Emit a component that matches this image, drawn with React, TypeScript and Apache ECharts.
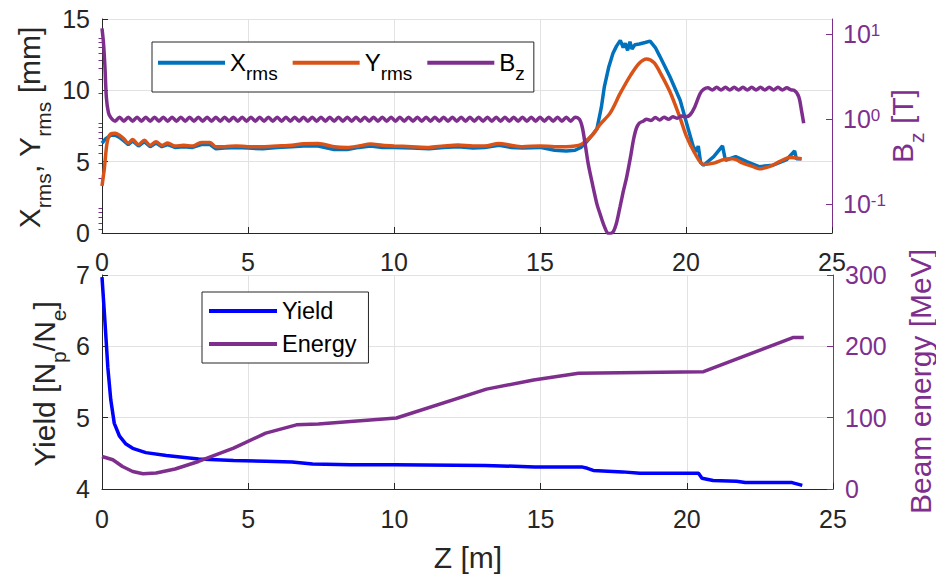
import React, { useEffect, useRef } from 'react';
import * as echarts from 'echarts';

const FONT = "'Liberation Sans', Arial, Helvetica, sans-serif";
const DARK = '#262626';
const PURPLE = '#7E2F8E';
const BLUE = '#0072BD';
const ORANGE = '#D95319';
const YBLUE = '#0000FF';
const GRIDC = '#e2e2e2';

// Top panel: Z [m] vs Xrms / Yrms [mm]
const xrms: [number, number][] = [
  [0, 6.3], [0.12, 6.6], [0.3, 6.85], [0.45, 6.85], [0.6, 6.7], [0.75, 6.45], [0.9, 6.2], [1.05, 6.45],
  [1.25, 6.1], [1.45, 6.4], [1.65, 6.05], [1.85, 6.3], [2.05, 6.05], [2.25, 6.2], [2.5, 6.0], [2.8, 6.05],
  [3.1, 6.0], [3.4, 6.2], [3.7, 6.2], [3.9, 5.9], [4.2, 5.95], [4.6, 6.0], [5.0, 5.95], [5.5, 5.9],
  [6.0, 6.0], [6.5, 6.05], [6.9, 6.1], [7.4, 6.1], [7.95, 5.85], [8.4, 5.85], [8.8, 6.0], [9.2, 6.1],
  [9.6, 6.0], [10.0, 6.0], [10.6, 5.95], [11.2, 5.9], [11.7, 6.0], [12.2, 6.05], [12.7, 5.95], [13.1, 6.0],
  [13.6, 6.15], [14.0, 6.0], [14.4, 5.95], [15.0, 6.0], [15.5, 5.8], [15.9, 5.75], [16.2, 5.8], [16.4, 6.0],
  [16.6, 6.4], [16.8, 6.9], [16.95, 7.3], [17.1, 8.8], [17.2, 10.2], [17.35, 11.6], [17.5, 12.6], [17.62, 13.1],
  [17.75, 13.5], [17.85, 13.0], [17.92, 13.3], [18.0, 12.8], [18.08, 13.4], [18.15, 12.9], [18.25, 13.2],
  [18.4, 13.25], [18.6, 13.35], [18.77, 13.45], [18.95, 13.0], [19.1, 12.4], [19.45, 10.95], [19.8, 9.3],
  [20.02, 7.7], [20.25, 6.05], [20.35, 5.7], [20.42, 6.1], [20.5, 4.95], [20.6, 4.75], [20.95, 5.35],
  [21.25, 6.1], [21.35, 5.1], [21.7, 5.35], [22.08, 5.0], [22.5, 4.65], [22.98, 4.75], [23.45, 5.15],
  [23.72, 5.75], [23.78, 5.2], [23.96, 5.2],
];

const yrms: [number, number][] = [
  [0, 3.3], [0.08, 4.5], [0.18, 6.4], [0.3, 6.95], [0.45, 7.0], [0.6, 6.85], [0.75, 6.6], [0.9, 6.3],
  [1.05, 6.55], [1.25, 6.2], [1.45, 6.5], [1.65, 6.15], [1.85, 6.4], [2.05, 6.15], [2.25, 6.3], [2.5, 6.1],
  [2.8, 6.15], [3.1, 6.1], [3.4, 6.35], [3.7, 6.35], [3.9, 6.05], [4.2, 6.05], [4.6, 6.1], [5.0, 6.05],
  [5.5, 6.05], [6.0, 6.1], [6.5, 6.15], [6.9, 6.25], [7.4, 6.28], [7.95, 6.05], [8.4, 6.0], [8.8, 6.1],
  [9.2, 6.24], [9.6, 6.15], [10.0, 6.1], [10.6, 6.05], [11.2, 6.0], [11.7, 6.1], [12.2, 6.17], [12.7, 6.1],
  [13.1, 6.1], [13.6, 6.28], [14.0, 6.15], [14.4, 6.05], [15.0, 6.1], [15.5, 6.05], [15.9, 6.05], [16.2, 6.1],
  [16.4, 6.2], [16.6, 6.5], [16.85, 7.0], [17.05, 7.6], [17.4, 8.4], [17.75, 9.8], [18.1, 11.05], [18.4, 11.9],
  [18.65, 12.2], [18.9, 11.95], [19.1, 11.3], [19.45, 9.9], [19.8, 8.05], [20.02, 6.75], [20.3, 5.6],
  [20.6, 4.8], [20.95, 4.9], [21.3, 5.15], [21.6, 5.2], [21.95, 4.9], [22.3, 4.65], [22.5, 4.5],
  [22.85, 4.65], [23.2, 5.0], [23.55, 5.3], [23.95, 5.2],
];

// Top panel right axis: Bz [T] (log)
const bz: [number, number][] = [
  [0, 11.8], [0.05, 8], [0.1, 4.2], [0.15, 1.8], [0.22, 1.2], [0.3, 1.05],
  [0.45, 0.95], [0.6, 1.06], [0.75, 0.95], [0.9, 1.06], [1.05, 0.95], [1.2, 1.06], [1.35, 0.95], [1.5, 1.06],
  [1.65, 0.95], [1.8, 1.06], [1.95, 0.95], [2.1, 1.06], [2.25, 0.95], [2.4, 1.06], [2.55, 0.95], [2.7, 1.06],
  [2.85, 0.95], [3.0, 1.06], [3.15, 0.95], [3.3, 1.06], [3.45, 0.95], [3.6, 1.06], [3.75, 0.95], [3.9, 1.06],
  [4.05, 0.95], [4.2, 1.06], [4.35, 0.95], [4.5, 1.06], [4.65, 0.95], [4.8, 1.06], [4.95, 0.95], [5.1, 1.06],
  [5.25, 0.95], [5.4, 1.06], [5.55, 0.95], [5.7, 1.06], [5.85, 0.95], [6.0, 1.06], [6.15, 0.95], [6.3, 1.06],
  [6.45, 0.95], [6.6, 1.06], [6.75, 0.95], [6.9, 1.06], [7.05, 0.95], [7.2, 1.06], [7.35, 0.95], [7.5, 1.06],
  [7.65, 0.95], [7.8, 1.06], [7.95, 0.95], [8.1, 1.06], [8.25, 0.95], [8.4, 1.06], [8.55, 0.95], [8.7, 1.06],
  [8.85, 0.95], [9.0, 1.06], [9.15, 0.95], [9.3, 1.06], [9.45, 0.95], [9.6, 1.06], [9.75, 0.95], [9.9, 1.06],
  [10.05, 0.95], [10.2, 1.06], [10.35, 0.95], [10.5, 1.06], [10.65, 0.95], [10.8, 1.06], [10.95, 0.95], [11.1, 1.06],
  [11.25, 0.95], [11.4, 1.06], [11.55, 0.95], [11.7, 1.06], [11.85, 0.95], [12.0, 1.06], [12.15, 0.95], [12.3, 1.06],
  [12.45, 0.95], [12.6, 1.06], [12.75, 0.95], [12.9, 1.06], [13.05, 0.95], [13.2, 1.06], [13.35, 0.95], [13.5, 1.06],
  [13.65, 0.95], [13.8, 1.06], [13.95, 0.95], [14.1, 1.06], [14.25, 0.95], [14.4, 1.06], [14.55, 0.95], [14.7, 1.06],
  [14.85, 0.95], [15.0, 1.06], [15.15, 0.95], [15.3, 1.06], [15.45, 0.95], [15.6, 1.06], [15.75, 0.95], [15.9, 1.06],
  [16.05, 0.95], [16.2, 1.06], [16.35, 1.0],
  [16.45, 0.8], [16.55, 0.5], [16.65, 0.3], [16.8, 0.17], [16.95, 0.1], [17.05, 0.078], [17.2, 0.055],
  [17.35, 0.045], [17.5, 0.047], [17.62, 0.06], [17.74, 0.093], [17.85, 0.14], [17.97, 0.21], [18.1, 0.36],
  [18.2, 0.57], [18.3, 0.78], [18.4, 0.9], [18.53, 0.95],
  [18.65, 1.0], [18.8, 0.97], [18.95, 1.05], [19.1, 0.98], [19.25, 1.06], [19.4, 1.0], [19.55, 1.07],
  [19.7, 1.03], [19.85, 1.09], [20.0, 1.07], [20.14, 1.13], [20.3, 1.4], [20.48, 2.0], [20.6, 2.25],
  [20.75, 2.35], [20.9, 2.22], [21.05, 2.38], [21.2, 2.22], [21.35, 2.38], [21.5, 2.22], [21.65, 2.38],
  [21.8, 2.22], [21.95, 2.38], [22.1, 2.22], [22.25, 2.38], [22.4, 2.22], [22.55, 2.38], [22.7, 2.22],
  [22.85, 2.38], [23.0, 2.22], [23.15, 2.38], [23.3, 2.22], [23.45, 2.35], [23.6, 2.22],
  [23.7, 2.2], [23.86, 1.85], [23.95, 1.3], [24.03, 0.9],
];

// Bottom panel: Yield [Np/Ne] and Beam energy [MeV]
const yieldData: [number, number][] = [
  [0, 6.97], [0.1, 6.35], [0.2, 5.7], [0.3, 5.25], [0.42, 4.92], [0.6, 4.74], [0.82, 4.63], [1.05, 4.57],
  [1.5, 4.51], [2.2, 4.47], [3.3, 4.42], [4.5, 4.4], [5.6, 4.39], [6.5, 4.38], [7.2, 4.35], [8.5, 4.34],
  [10.0, 4.34], [13.1, 4.33], [14.8, 4.31], [16.4, 4.31], [16.6, 4.29], [16.8, 4.26], [17.8, 4.24],
  [18.4, 4.22], [20.4, 4.22], [20.52, 4.15], [20.9, 4.12], [21.7, 4.11], [22.0, 4.09], [23.6, 4.09],
  [23.95, 4.05],
];

const energy: [number, number][] = [
  [0, 45.6], [0.37, 41], [0.7, 31.6], [1.05, 24.6], [1.4, 21.4], [1.85, 22.4], [2.5, 28], [3.3, 38.6],
  [4.5, 57.3], [5.6, 78.3], [6.65, 89.9], [7.4, 91], [8.5, 94.5], [10.07, 99.5], [13.15, 140],
  [14.76, 152.8], [16.3, 162.2], [17.7, 163], [20.57, 164.4], [23.65, 212.5], [24.0, 212.5],
];

const logMajor = [0.1, 1, 10];
const logMinor = [0.05, 0.06, 0.07, 0.08, 0.09, 0.2, 0.3, 0.4, 0.5, 0.6, 0.7, 0.8, 0.9, 2, 3, 4, 5, 6, 7, 8, 9];

function subRich(F: number, f: number, off: number, color: string) {
  const pTop = off + (F - f) / 2;
  return {
    m: { fontSize: F, lineHeight: F, verticalAlign: 'top', fontFamily: FONT, color, fill: color },
    s: { fontSize: f, lineHeight: f, verticalAlign: 'top', padding: [pTop, 0, 0, 0], fontFamily: FONT, color, fill: color },
  };
}

const TICKFS = 25;
const TITLEFS = 30;

function titleText(x: number, y: number, text: string, color: string, rich: any) {
  return {
    type: 'text',
    x,
    y,
    rotation: Math.PI / 2,
    silent: true,
    style: {
      text,
      rich,
      fontSize: TITLEFS,
      fontFamily: FONT,
      fill: color,
      align: 'center',
      verticalAlign: 'middle',
      textAlign: 'center',
      textVerticalAlign: 'middle',
    },
  };
}

const legendNames: Record<string, string> = {
  Xrms: '{m|X}{s|rms}',
  Yrms: '{m|Y}{s|rms}',
  Bz: '{m|B}{s|z}',
};

function xAxisCfg(grid: number, margin: number) {
  return {
    gridIndex: grid,
    type: 'value',
    min: 0,
    max: 25,
    interval: 5,
    axisLine: { show: true, onZero: false, lineStyle: { color: DARK, width: 1 } },
    axisTick: { show: true, inside: true, length: 6, lineStyle: { color: DARK } },
    axisLabel: { fontSize: TICKFS, color: DARK, margin, fontFamily: FONT },
    splitLine: { show: true, lineStyle: { color: GRIDC, width: 1 } },
  };
}

export default function App() {
  const ref = useRef<HTMLDivElement>(null);
  useEffect(() => {
    const chart = echarts.init(ref.current!, null, { renderer: 'svg' });
    const titleRich = subRich(TITLEFS, 21, 14, DARK);
    const titleRichP = subRich(TITLEFS, 21, 14, PURPLE);
    const option: any = {
      animation: false,
      backgroundColor: '#ffffff',
      textStyle: { fontFamily: FONT },
      grid: [
        { left: 102, top: 19, width: 730, height: 214 },
        { left: 102, top: 275, width: 731, height: 214 },
      ],
      legend: [
        {
          data: ['Xrms', 'Yrms', 'Bz'],
          left: 152,
          top: 42,
          orient: 'horizontal',
          icon: 'rect',
          itemWidth: 67,
          itemHeight: 4,
          itemGap: 15,
          selectedMode: false,
          padding: [8.75, 9, 8.75, 6],
          borderColor: DARK,
          borderWidth: 1,
          borderRadius: 0,
          backgroundColor: '#ffffff',
          formatter: (n: string) => legendNames[n] || n,
          textStyle: { fontSize: 24, color: '#000', fontFamily: FONT, rich: subRich(24, 19, 11, '#000') },
        },
        {
          data: ['Yield', 'Energy'],
          left: 202,
          top: 292,
          orient: 'vertical',
          icon: 'rect',
          itemWidth: 68,
          itemHeight: 4,
          itemGap: 6,
          selectedMode: false,
          padding: [5.5, 12, 5.5, 7],
          borderColor: DARK,
          borderWidth: 1,
          borderRadius: 0,
          backgroundColor: '#ffffff',
          textStyle: { fontSize: 23.5, lineHeight: 27, color: '#000', fontFamily: FONT },
        },
      ],
      xAxis: [xAxisCfg(0, 16), xAxisCfg(1, 17)],
      yAxis: [
        {
          gridIndex: 0,
          type: 'value',
          position: 'left',
          min: 0,
          max: 15,
          interval: 5,
          axisLine: { show: true, onZero: false, lineStyle: { color: DARK, width: 1 } },
          axisTick: { show: true, inside: true, length: 6, lineStyle: { color: DARK } },
          axisLabel: { fontSize: TICKFS, color: DARK, margin: 12, fontFamily: FONT },
          splitLine: { show: true, lineStyle: { color: GRIDC, width: 1 } },
        },
        {
          gridIndex: 0,
          type: 'log',
          logBase: 10,
          position: 'right',
          min: 0.0457,
          max: 15.2,
          axisLine: { show: true, onZero: false, lineStyle: { color: PURPLE, width: 1 } },
          axisTick: { show: true, inside: true, length: 6, customValues: logMajor, lineStyle: { color: PURPLE } },
          axisLabel: {
            margin: 11,
            customValues: logMajor,
            formatter: (v: number) => `{b|10}{p|${Math.round(Math.log10(v))}}`,
            rich: {
              b: { fontSize: TICKFS, lineHeight: TICKFS, verticalAlign: 'bottom', padding: [5, 0, 0, 0], color: PURPLE, fontFamily: FONT },
              p: { fontSize: 17, lineHeight: 17, verticalAlign: 'top', padding: [0, 0, 11, 0], color: PURPLE, fontFamily: FONT },
            },
          },
          splitLine: { show: false },
        },
        {
          gridIndex: 0,
          type: 'log',
          logBase: 10,
          position: 'right',
          min: 0.0457,
          max: 15.2,
          axisLine: { show: false },
          axisTick: { show: true, inside: true, length: 3.5, customValues: logMinor, lineStyle: { color: PURPLE } },
          axisLabel: { show: false },
          splitLine: { show: false },
        },
        {
          gridIndex: 1,
          type: 'value',
          position: 'left',
          min: 4,
          max: 7,
          interval: 1,
          axisLine: { show: true, onZero: false, lineStyle: { color: DARK, width: 1 } },
          axisTick: { show: true, inside: true, length: 6, lineStyle: { color: DARK } },
          axisLabel: { fontSize: TICKFS, color: DARK, margin: 12, fontFamily: FONT },
          splitLine: { show: true, lineStyle: { color: GRIDC, width: 1 } },
        },
        {
          gridIndex: 1,
          type: 'value',
          position: 'right',
          min: 0,
          max: 300,
          interval: 100,
          axisLine: { show: true, onZero: false, lineStyle: { color: PURPLE, width: 1 } },
          axisTick: { show: true, inside: true, length: 6, lineStyle: { color: PURPLE } },
          axisLabel: { fontSize: TICKFS, color: PURPLE, margin: 12, fontFamily: FONT },
          splitLine: { show: false },
        },
      ],
      series: [
        { name: 'Xrms', type: 'line', xAxisIndex: 0, yAxisIndex: 0, data: xrms, symbol: 'none', showSymbol: false,
          lineStyle: { width: 3.5, color: BLUE }, itemStyle: { color: BLUE } },
        { name: 'Yrms', type: 'line', xAxisIndex: 0, yAxisIndex: 0, data: yrms, symbol: 'none', showSymbol: false, smooth: 0.3,
          lineStyle: { width: 3.5, color: ORANGE }, itemStyle: { color: ORANGE } },
        { name: 'Bz', type: 'line', xAxisIndex: 0, yAxisIndex: 1, data: bz, symbol: 'none', showSymbol: false, smooth: 0.3,
          lineStyle: { width: 3.5, color: PURPLE }, itemStyle: { color: PURPLE } },
        { name: 'Yield', type: 'line', xAxisIndex: 1, yAxisIndex: 3, data: yieldData, symbol: 'none', showSymbol: false,
          lineStyle: { width: 3.5, color: YBLUE }, itemStyle: { color: YBLUE } },
        { name: 'Energy', type: 'line', xAxisIndex: 1, yAxisIndex: 4, data: energy, symbol: 'none', showSymbol: false,
          lineStyle: { width: 3.5, color: PURPLE }, itemStyle: { color: PURPLE } },
      ],
      graphic: [
        titleText(29.5, 127.5, '{m|X}{s|rms}{m|, Y}{s|rms}{m| [mm]}', DARK, titleRich),
        titleText(44.5, 384, '{m|Yield [N}{s|p}{m|/N}{s|e}{m|]}', DARK, titleRich),
        titleText(902, 126, '{m|B}{s|z}{m| [T]}', PURPLE, titleRichP),
        {
          type: 'text', x: 920, y: 381.5, rotation: Math.PI / 2, silent: true,
          style: { text: 'Beam energy [MeV]', fontSize: TITLEFS, fontFamily: FONT, fill: PURPLE,
            align: 'center', verticalAlign: 'middle', textAlign: 'center', textVerticalAlign: 'middle' },
        },
        {
          type: 'text', x: 468, y: 557, silent: true,
          style: { text: 'Z [m]', fontSize: TITLEFS, fontFamily: FONT, fill: DARK,
            align: 'center', verticalAlign: 'middle', textAlign: 'center', textVerticalAlign: 'middle' },
        },
      ],
    };
    chart.setOption(option);
    return () => chart.dispose();
  }, []);
  return <div ref={ref} style={{ position: 'absolute', left: 0, top: 0, width: 936, height: 574 }} />;
}
